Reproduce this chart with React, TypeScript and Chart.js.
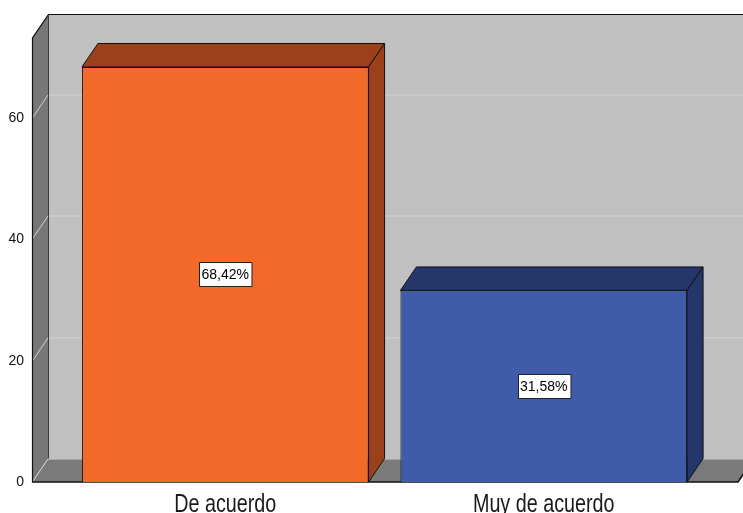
import React, { useEffect, useRef } from 'react';
import { Chart, registerables } from 'chart.js';

Chart.register(...registerables);

const categories = ['De acuerdo', 'Muy de acuerdo'];
const percentages = [68.42, 31.58];
const yTicks = [0, 20, 40, 60];
const frontColors = ['#F2692A', '#3F5BA9'];
const shadeColors = ['#9A401B', '#25366B'];

const DX = 16;
const DY = 23.5;
const WALL_EXT_LEFT = 34;
const WALL_EXT_RIGHT = 35;
const FONT = "'Liberation Sans', Arial, sans-serif";
const CAT_FONT_SIZE = 25;
const CAT_CONDENSE = 0.79;
const CAT_BASELINE_GAP = 30;

const poly = (ctx: CanvasRenderingContext2D, pts: number[][], fill: string | null, stroke?: string) => {
  ctx.beginPath();
  ctx.moveTo(pts[0][0], pts[0][1]);
  for (let i = 1; i < pts.length; i++) ctx.lineTo(pts[i][0], pts[i][1]);
  ctx.closePath();
  if (fill) {
    ctx.fillStyle = fill;
    ctx.fill();
  }
  if (stroke) {
    ctx.strokeStyle = stroke;
    ctx.lineWidth = 1;
    ctx.stroke();
  }
};

const threeD = {
  id: 'threeD',
  beforeDatasetsDraw(chart: any) {
    const { ctx, chartArea } = chart;
    const L = chartArea.left - WALL_EXT_LEFT;
    const R = chartArea.right + WALL_EXT_RIGHT;
    const T = chartArea.top;
    const B = chartArea.bottom;
    const y = chart.scales.y;
    ctx.save();
    // back wall
    ctx.fillStyle = '#c0c0c0';
    ctx.fillRect(L + DX, T - DY, R - L, B - T);
    // left wall
    poly(ctx, [[L, T], [L + DX, T - DY], [L + DX, B - DY], [L, B]], '#777777');
    // floor
    poly(ctx, [[L, B], [L + DX, B - DY], [R + DX, B - DY], [R, B]], '#7a7a7a');
    // gridlines
    ctx.strokeStyle = '#d4d4d4';
    ctx.lineWidth = 1;
    yTicks.forEach((v) => {
      const py = Math.round(y.getPixelForValue(v)) + 0.5;
      ctx.beginPath();
      ctx.moveTo(L, py);
      ctx.lineTo(L + DX, py - DY);
      ctx.lineTo(R + DX, py - DY);
      ctx.stroke();
    });
    // edges
    ctx.strokeStyle = '#111111';
    ctx.lineWidth = 1.2;
    ctx.beginPath();
    ctx.moveTo(L + 0.5, B);
    ctx.lineTo(L + 0.5, T);
    ctx.lineTo(L + DX + 0.5, T - DY);
    ctx.lineTo(R + DX, T - DY);
    ctx.stroke();
    ctx.strokeStyle = '#3a3a3a';
    ctx.lineWidth = 1;
    ctx.beginPath();
    ctx.moveTo(L + DX + 0.5, T - DY);
    ctx.lineTo(L + DX + 0.5, B - DY);
    ctx.stroke();
    ctx.strokeStyle = '#111111';
    ctx.lineWidth = 1.5;
    ctx.beginPath();
    ctx.moveTo(L, B);
    ctx.lineTo(R, B);
    ctx.lineTo(R + DX, B - DY);
    ctx.stroke();
    ctx.restore();
  },
  afterDatasetsDraw(chart: any) {
    const { ctx } = chart;
    const meta = chart.getDatasetMeta(0);
    ctx.save();
    meta.data.forEach((el: any, i: number) => {
      const { x, y, base, width } = el.getProps(['x', 'y', 'base', 'width'], true);
      const l = x - width / 2;
      const r = x + width / 2;
      ctx.lineJoin = 'round';
      // top face
      poly(ctx, [[l, y], [l + DX, y - DY], [r + DX, y - DY], [r, y]], shadeColors[i], '#111');
      // side face
      poly(ctx, [[r, y], [r + DX, y - DY], [r + DX, base - DY], [r, base]], shadeColors[i], '#111');
      // value label
      const txt = percentages[i].toFixed(2).replace('.', ',') + '%';
      ctx.font = `14px ${FONT}`;
      const tw = ctx.measureText(txt).width;
      const cy = (y + base) / 2;
      const bw = tw + 5;
      const bh = 24;
      const bx = Math.round(x - bw / 2) + 0.5;
      const by = Math.round(cy - bh / 2) + 0.5;
      ctx.fillStyle = '#ffffff';
      ctx.fillRect(bx, by, bw, bh);
      ctx.strokeStyle = '#222';
      ctx.lineWidth = 1;
      ctx.strokeRect(bx, by, bw, bh);
      ctx.fillStyle = '#000';
      ctx.textAlign = 'center';
      ctx.textBaseline = 'middle';
      ctx.fillText(txt, x, cy + 1);
    });
    // category labels (condensed, like the original)
    const xs = chart.scales.x;
    const B = chart.chartArea.bottom;
    categories.forEach((c, i) => {
      ctx.save();
      ctx.translate(xs.getPixelForValue(i), B + CAT_BASELINE_GAP);
      ctx.scale(CAT_CONDENSE, 1);
      ctx.font = `${CAT_FONT_SIZE}px ${FONT}`;
      ctx.fillStyle = '#1a1a1a';
      ctx.textAlign = 'center';
      ctx.textBaseline = 'alphabetic';
      ctx.fillText(c, 0, 0);
      ctx.restore();
    });
    ctx.restore();
  },
};

export default function App() {
  const ref = useRef<HTMLCanvasElement>(null);
  useEffect(() => {
    document.body.style.margin = '0';
    const canvas = ref.current;
    if (!canvas) return;
    const chart = new Chart(canvas, {
      type: 'bar',
      data: {
        labels: categories,
        datasets: [
          {
            data: percentages,
            backgroundColor: frontColors,
            borderColor: '#111',
            borderWidth: 1,
            barPercentage: 1,
            categoryPercentage: 0.9,
          },
        ],
      },
      options: {
        responsive: false,
        animation: false,
        devicePixelRatio: 1,
        layout: { padding: { top: 38, right: 40, bottom: 0, left: 0 } },
        plugins: { legend: { display: false }, tooltip: { enabled: false } },
        scales: {
          x: {
            grid: { display: false, drawTicks: false },
            border: { display: false },
            afterFit: (s: any) => {
              s.height = 31;
              s.paddingLeft = 0;
              s.paddingRight = 0;
            },
            ticks: { display: false },
          },
          y: {
            min: 0,
            max: 73.2,
            grid: { display: false, drawTicks: false },
            border: { display: false },
            afterBuildTicks: (s: any) => {
              s.ticks = yTicks.map((v) => ({ value: v }));
            },
            afterFit: (s: any) => {
              s.width = 66;
              s.paddingTop = 0;
              s.paddingBottom = 0;
            },
            ticks: {
              padding: 42,
              color: '#111',
              font: { family: FONT, size: 14 },
            },
          },
        },
      },
      plugins: [threeD],
    });
    return () => chart.destroy();
  }, []);
  return (
    <div style={{ width: 743, height: 513 }}>
      <canvas ref={ref} width={743} height={513} />
    </div>
  );
}
